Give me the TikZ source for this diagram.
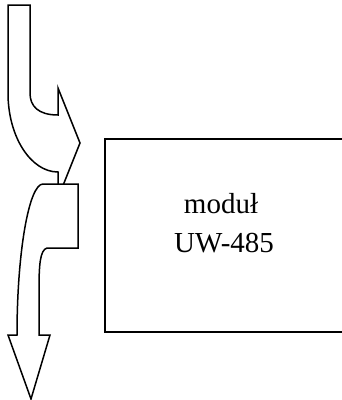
\documentclass[tikz,border=0pt]{standalone}
\usepackage{fontspec}
\setmainfont{Liberation Serif}
\begin{document}
\begin{tikzpicture}[x=1pt,y=-1pt,
  arrowshape/.style={draw=black,fill=white,line width=1.5pt,line join=miter},
  boxst/.style={draw=black,line width=2pt,inner sep=0pt,minimum width=245pt,minimum height=193pt,anchor=north west},
  txt/.style={font=\fontsize{29}{39}\selectfont,anchor=base,inner sep=0pt}]
\useasboundingbox (0,0) rectangle (342,400);
\clip (0,0) rectangle (342,400);
% module box
\node[boxst] (box) at (103.5,138) {};
\node[txt] (t1) at (221,213) {moduł};
\node[txt] (t2) at (224,252) {UW-485};
% upper curved arrow
\draw[arrowshape] (8,5) -- (30,5) -- (30,93)
  .. controls (30,106) and (38,115) .. (58,115)
  -- (58,88) -- (80,143) -- (58,198) -- (58,172)
  .. controls (31,172) and (8,137) .. (8,93) -- cycle;
% lower curved arrow
\draw[arrowshape] (43,184) -- (78,184) -- (78,248) -- (47,248)
  .. controls (40,250) and (39,265) .. (39,290)
  -- (39,335) -- (50,335) -- (31,399) -- (8,335) -- (17,335)
  .. controls (17,252) and (29,184) .. (43,184) -- cycle;
\end{tikzpicture}
\end{document}
